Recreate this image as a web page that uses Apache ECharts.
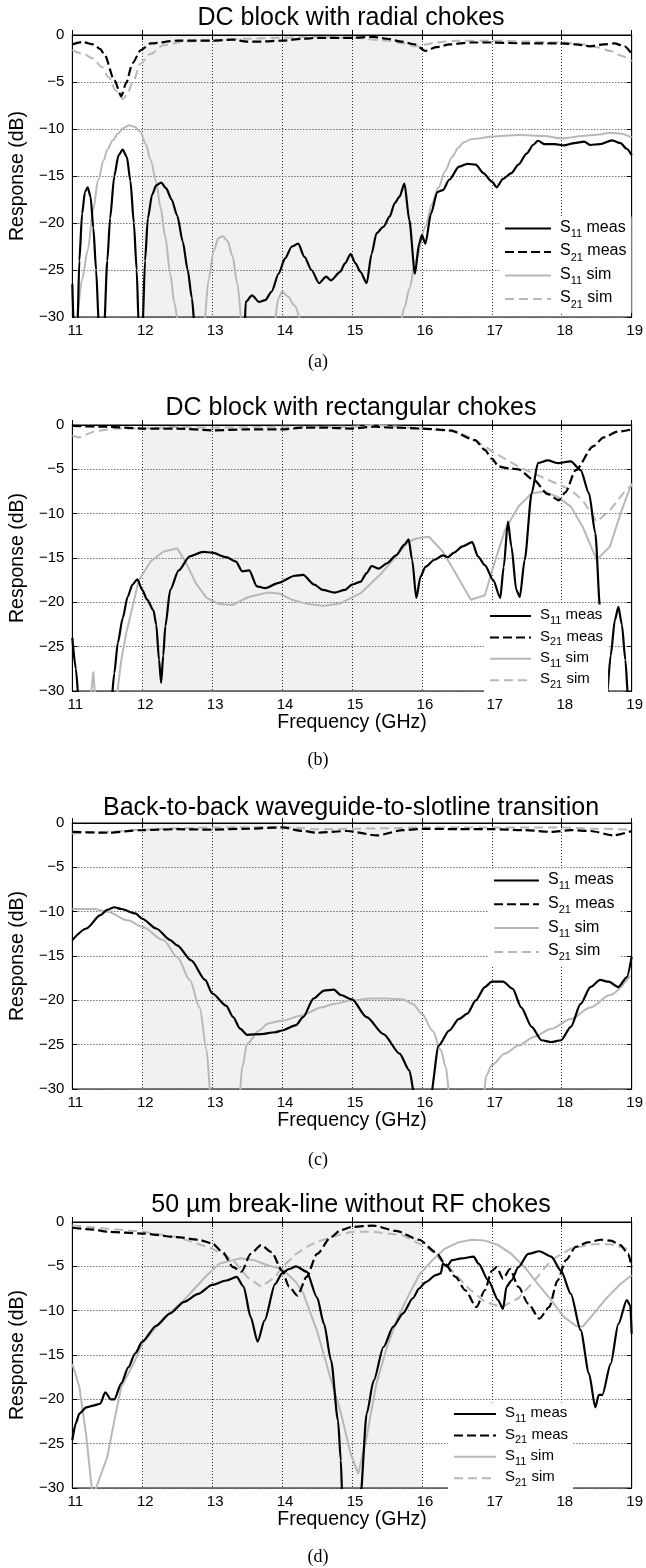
<!DOCTYPE html>
<html><head><meta charset="utf-8">
<script src="https://cdn.jsdelivr.net/npm/echarts@6/dist/echarts.min.js"></script>
<style>html,body{margin:0;padding:0;background:#fff}#c{width:646px;height:1568px}</style>
</head><body><div id="c"></div>
<script>
// ---------- axes / labels ----------
const X_MIN = 11, X_MAX = 19, X_STEP = 1;
const Y_MIN = -30, Y_MAX = 0, Y_STEP = 5;
const TITLES = ['DC block with radial chokes', 'DC block with rectangular chokes',
  'Back-to-back waveguide-to-slotline transition', '50 \u00b5m break-line without RF chokes'];
const PANEL_LABELS = ['(a)', '(b)', '(c)', '(d)'];
const LEGEND_NAMES = ['S11 meas', 'S21 meas', 'S11 sim', 'S21 sim'];
const SHADE_BAND = [12, 16];

// ---------- (a) DC block with radial chokes ----------
const A_S11_MEAS = [[11.0,-26.5],[11.02,-31],[11.07,-32],[11.1,-24],[11.14,-19],[11.18,-16.7],[11.22,-16.2],[11.26,-17.2],[11.3,-20.5],[11.34,-25],[11.38,-31],[11.45,-32],[11.5,-24],[11.54,-19.5],[11.6,-15],[11.66,-12.8],[11.72,-12.2],[11.78,-13],[11.83,-15.5],[11.88,-20],[11.92,-25],[11.95,-31],[12.0,-32],[12.04,-24],[12.08,-19.5],[12.14,-17],[12.2,-16],[12.27,-15.7],[12.34,-16.3],[12.42,-17.5],[12.5,-19.2],[12.58,-22],[12.65,-25],[12.71,-28],[12.76,-32],[13.46,-32],[13.48,-28.4],[13.57,-27.7],[13.67,-28.4],[13.76,-28.2],[13.85,-27.3],[13.95,-25.4],[14.04,-23.8],[14.14,-22.5],[14.23,-22.2],[14.32,-23.6],[14.42,-25.0],[14.53,-26.4],[14.63,-25.7],[14.7,-26.1],[14.83,-25.2],[14.9,-24.3],[14.98,-23.3],[15.05,-24.3],[15.12,-25.2],[15.21,-26.4],[15.28,-23.3],[15.35,-21.1],[15.45,-20.4],[15.54,-19.3],[15.61,-17.9],[15.68,-17.2],[15.75,-15.8],[15.82,-19.7],[15.9,-25.4],[15.96,-22.2],[16.0,-21.3],[16.05,-22.2],[16.13,-19.0],[16.22,-16.7],[16.3,-16.5],[16.39,-15.4],[16.53,-14.0],[16.65,-13.7],[16.77,-13.8],[16.88,-14.7],[17.0,-15.6],[17.07,-16.2],[17.16,-15.3],[17.28,-14.7],[17.38,-13.8],[17.5,-12.6],[17.59,-11.7],[17.66,-11.25],[17.75,-11.6],[17.9,-11.6],[18.03,-11.75],[18.18,-11.5],[18.32,-11.35],[18.41,-11.7],[18.55,-11.6],[18.72,-11.2],[18.84,-11.5],[18.93,-12.1],[19.0,-12.8]];
const A_S21_MEAS = [[11.0,-1.0],[11.15,-0.75],[11.3,-1.0],[11.4,-1.5],[11.46,-2.1],[11.6,-4.8],[11.7,-6.5],[11.77,-5.1],[11.86,-3.0],[11.98,-1.6],[12.12,-0.9],[12.5,-0.6],[13.0,-0.6],[13.3,-0.5],[13.5,-0.7],[13.7,-0.7],[14.0,-0.6],[14.3,-0.4],[14.5,-0.3],[15.0,-0.3],[15.3,-0.2],[15.5,-0.4],[15.7,-0.7],[15.9,-1.0],[16.05,-1.7],[16.2,-1.3],[16.4,-1.0],[16.7,-0.8],[17.0,-0.8],[17.5,-0.9],[18.0,-0.9],[18.2,-1.0],[18.4,-1.2],[18.6,-1.0],[18.75,-0.9],[18.9,-1.2],[19.0,-2.0]];
const A_S11_SIM = [[11.0,-33],[11.06,-30],[11.14,-26],[11.22,-22.9],[11.3,-18.5],[11.37,-15.4],[11.45,-13.3],[11.5,-12.2],[11.58,-11.2],[11.65,-10.5],[11.73,-9.9],[11.81,-9.6],[11.9,-9.8],[11.97,-10.3],[12.05,-11.6],[12.12,-13.3],[12.2,-15.6],[12.26,-18.3],[12.33,-21.5],[12.4,-25.4],[12.46,-28.5],[12.52,-31],[12.88,-31],[12.95,-26],[13.02,-23],[13.09,-21.6],[13.15,-21.4],[13.22,-21.9],[13.29,-23.5],[13.36,-26.5],[13.43,-31],[13.88,-31],[13.95,-28],[14.0,-27.3],[14.08,-27.8],[14.18,-28.8],[14.3,-31],[15.68,-31],[15.75,-29],[15.82,-27],[15.91,-24],[16.05,-20.4],[16.14,-18],[16.24,-16.2],[16.33,-14.5],[16.43,-13],[16.52,-12],[16.6,-11.4],[16.7,-11.1],[16.8,-11],[17.0,-10.8],[17.38,-10.65],[17.75,-10.75],[18.0,-11],[18.3,-10.75],[18.5,-10.6],[18.7,-10.4],[18.85,-10.5],[19.0,-10.9]];
const A_S21_SIM = [[11.0,-1.6],[11.15,-2.0],[11.3,-2.5],[11.42,-3.4],[11.52,-4.5],[11.62,-5.9],[11.72,-6.8],[11.78,-6.4],[11.86,-5.1],[11.98,-3.0],[12.12,-2.0],[12.3,-1.1],[12.6,-0.7],[13.0,-0.6],[13.5,-0.4],[14.0,-0.3],[14.5,-0.2],[15.0,-0.3],[15.5,-0.6],[15.75,-0.9],[15.9,-1.2],[16.05,-1.0],[16.2,-0.8],[16.5,-0.6],[17.0,-0.6],[17.5,-0.7],[18.0,-0.8],[18.3,-1.0],[18.5,-1.3],[18.7,-1.7],[18.85,-2.2],[19.0,-2.8]];

// ---------- (b) DC block with rectangular chokes ----------
const B_S11_MEAS = [[11.0,-24],[11.05,-27.5],[11.1,-32],[11.55,-32],[11.6,-28],[11.65,-24.6],[11.72,-21.8],[11.79,-19.4],[11.86,-18],[11.93,-17.4],[12.0,-18.6],[12.07,-19.7],[12.16,-20.9],[12.2,-22.5],[12.24,-26.5],[12.27,-29.1],[12.3,-26],[12.33,-22.7],[12.4,-18.6],[12.52,-16.4],[12.68,-14.8],[12.87,-14.3],[13.0,-14.4],[13.2,-14.9],[13.34,-15.4],[13.43,-16.5],[13.53,-16.4],[13.64,-18.2],[13.76,-18.4],[13.95,-17.8],[14.18,-17.0],[14.3,-16.9],[14.46,-18.0],[14.58,-18.6],[14.75,-18.9],[14.9,-18.6],[15.0,-18.0],[15.12,-17.7],[15.21,-16.7],[15.28,-15.9],[15.38,-16.2],[15.5,-15.6],[15.63,-14.7],[15.75,-13.5],[15.81,-12.9],[15.86,-15.2],[15.92,-19.5],[15.98,-17.1],[16.05,-16.0],[16.18,-15.2],[16.3,-14.7],[16.37,-14.9],[16.46,-14.4],[16.58,-13.7],[16.72,-13.2],[16.8,-14.8],[16.9,-15.8],[17.02,-17.5],[17.12,-19.5],[17.17,-16],[17.23,-10.9],[17.28,-13.7],[17.35,-18.6],[17.4,-19.4],[17.47,-15.2],[17.57,-7.7],[17.66,-4.3],[17.8,-4.0],[17.94,-4.3],[18.13,-4.1],[18.27,-5.1],[18.39,-7.7],[18.48,-12.2],[18.55,-20.9],[18.62,-31],[18.64,-31],[18.7,-26],[18.76,-22],[18.81,-20.5],[18.86,-22.5],[18.91,-26.5],[18.95,-31],[19.0,-33]];
const B_S21_MEAS = [[11.0,-0.1],[11.5,-0.2],[12.0,-0.4],[12.5,-0.4],[13.0,-0.6],[13.5,-0.5],[14.0,-0.5],[14.3,-0.3],[14.6,-0.3],[15.0,-0.4],[15.3,-0.2],[15.6,-0.3],[16.0,-0.4],[16.4,-0.6],[16.76,-1.7],[16.9,-2.8],[17.0,-3.8],[17.1,-4.7],[17.25,-4.9],[17.38,-5.0],[17.6,-6.2],[17.8,-7.8],[17.96,-8.5],[18.05,-7.6],[18.2,-5.1],[18.45,-2.4],[18.6,-1.4],[18.8,-0.75],[19.0,-0.5]];
const B_S11_SIM = [[11.0,-33],[11.26,-31],[11.3,-27.8],[11.33,-31],[11.63,-31],[11.7,-26.5],[11.77,-23.5],[11.84,-21.2],[11.95,-17.5],[12.12,-15.4],[12.3,-14.3],[12.5,-13.9],[12.63,-15.6],[12.77,-17.9],[12.92,-19.5],[13.1,-20.2],[13.29,-20.3],[13.52,-19.4],[13.8,-18.9],[13.95,-19.0],[14.14,-19.7],[14.37,-20.2],[14.6,-20.4],[14.84,-20.1],[15.12,-19.0],[15.4,-16.9],[15.63,-14.8],[15.8,-13.2],[15.92,-12.8],[16.1,-12.6],[16.3,-14.3],[16.48,-16.7],[16.7,-19.7],[16.9,-19.2],[17.02,-16],[17.19,-11.8],[17.38,-9.2],[17.57,-7.7],[17.75,-7.5],[17.94,-8.1],[18.13,-9.2],[18.3,-11.5],[18.5,-15.2],[18.69,-13.7],[18.84,-10],[19.0,-6.6]];
const B_S21_SIM = [[11.0,-1.2],[11.1,-1.4],[11.3,-0.75],[11.6,-0.4],[12.0,-0.4],[12.5,-0.2],[13.0,-0.3],[14.0,-0.2],[15.0,-0.2],[15.3,0],[15.7,-0.2],[16.0,-0.4],[16.5,-0.75],[16.76,-1.7],[17.05,-3.2],[17.38,-4.7],[17.75,-6.0],[18.13,-7.3],[18.3,-8.5],[18.5,-10.9],[18.69,-9.6],[18.9,-7.5],[19.0,-6.8]];

// ---------- (c) Back-to-back waveguide-to-slotline transition ----------
const C_S11_MEAS = [[11.0,-13.2],[11.2,-11.9],[11.4,-10.4],[11.5,-9.8],[11.6,-9.5],[11.7,-9.7],[11.9,-10.2],[12.0,-10.8],[12.2,-11.9],[12.4,-13.2],[12.5,-13.8],[12.7,-15.5],[12.9,-17.7],[13.0,-19.2],[13.2,-20.6],[13.3,-21.9],[13.4,-23.2],[13.5,-23.9],[13.7,-23.8],[13.9,-23.6],[14.0,-23.4],[14.2,-22.8],[14.3,-21.9],[14.45,-19.8],[14.6,-18.9],[14.74,-18.8],[14.84,-19.4],[15.0,-19.9],[15.21,-21.9],[15.45,-23.8],[15.68,-26.0],[15.82,-27.9],[15.9,-31],[16.12,-31],[16.24,-25.1],[16.39,-23.4],[16.53,-22.1],[16.65,-21.5],[16.77,-20.0],[16.9,-18.5],[17.0,-17.9],[17.16,-17.9],[17.3,-18.7],[17.42,-20.8],[17.57,-23.0],[17.71,-24.5],[17.85,-24.7],[17.99,-24.5],[18.13,-23.0],[18.27,-20.4],[18.41,-18.5],[18.55,-17.7],[18.67,-17.9],[18.81,-18.5],[18.93,-17.4],[19.0,-15.1]];
const C_S21_MEAS = [[11.0,-1.0],[11.5,-1.1],[12.0,-0.8],[12.5,-0.7],[13.0,-0.75],[13.5,-0.65],[14.0,-0.5],[14.3,-0.9],[14.5,-1.1],[14.93,-0.9],[15.36,-1.4],[15.73,-0.8],[16.05,-0.65],[16.53,-0.7],[17.0,-0.7],[17.47,-0.8],[17.85,-1.0],[18.13,-0.8],[18.41,-0.9],[18.74,-1.4],[19.0,-0.9]];
const C_S11_SIM = [[11.0,-9.7],[11.3,-9.7],[11.5,-10.0],[11.8,-11.0],[12.0,-11.7],[12.3,-13.2],[12.5,-15.1],[12.68,-17.7],[12.82,-20.8],[12.92,-25.6],[12.98,-31],[13.39,-31],[13.43,-27.5],[13.5,-24.9],[13.67,-23.4],[13.8,-22.6],[14.0,-22.3],[14.28,-21.7],[14.56,-20.8],[14.74,-20.4],[15.0,-20.0],[15.26,-19.8],[15.5,-19.8],[15.73,-19.9],[15.87,-20.4],[16.0,-21.5],[16.15,-23.4],[16.27,-25.6],[16.34,-27.5],[16.4,-31],[16.88,-31],[16.92,-28.5],[17.0,-27.3],[17.19,-26.0],[17.38,-25.1],[17.61,-24.1],[17.85,-23.2],[18.13,-22.1],[18.41,-20.8],[18.69,-19.4],[18.98,-17.2]];
const C_S21_SIM = [[11.0,-1.2],[11.5,-1.0],[12.0,-0.75],[12.5,-0.6],[13.0,-0.5],[14.0,-0.45],[14.5,-0.7],[15.0,-0.65],[15.5,-0.6],[16.0,-0.5],[17.0,-0.5],[18.0,-0.5],[18.5,-0.65],[19.0,-0.75]];

// ---------- (d) 50 um break-line without RF chokes ----------
const D_S11_MEAS = [[11.0,-24.6],[11.05,-22.7],[11.1,-21.6],[11.2,-20.9],[11.3,-20.7],[11.4,-20.5],[11.47,-19.2],[11.55,-20.0],[11.6,-20.0],[11.7,-18.2],[11.8,-16.4],[11.9,-14.8],[12.0,-13.5],[12.2,-11.7],[12.4,-10.3],[12.6,-9.0],[12.8,-8.1],[13.0,-7.1],[13.2,-6.6],[13.35,-6.2],[13.45,-7.3],[13.55,-10.7],[13.65,-13.5],[13.75,-11.1],[13.9,-7.0],[14.0,-5.8],[14.1,-5.3],[14.2,-5.0],[14.35,-5.6],[14.5,-8.5],[14.6,-11.5],[14.7,-15.6],[14.8,-22.4],[14.84,-26.9],[14.86,-31],[15.12,-31],[15.21,-21.6],[15.31,-17.9],[15.45,-14.1],[15.59,-11.8],[15.73,-10.3],[15.87,-8.6],[15.96,-7.5],[16.05,-6.8],[16.2,-6.0],[16.27,-5.8],[16.3,-4.7],[16.36,-5.0],[16.43,-4.3],[16.57,-4.1],[16.74,-3.9],[16.81,-4.7],[16.95,-6.6],[17.09,-8.8],[17.16,-9.8],[17.21,-7.3],[17.28,-6.6],[17.38,-5.1],[17.52,-3.6],[17.68,-3.3],[17.85,-3.9],[17.99,-5.5],[18.13,-8.1],[18.27,-12.2],[18.39,-17.1],[18.48,-20.9],[18.53,-19.5],[18.58,-19.5],[18.7,-16.0],[18.81,-11.5],[18.93,-8.8],[18.98,-9.4],[19.0,-12.6]];
const D_S21_MEAS = [[11.0,-0.65],[11.3,-0.85],[11.5,-1.1],[12.0,-1.3],[12.5,-1.7],[12.8,-2.0],[13.0,-2.4],[13.15,-3.4],[13.3,-5.1],[13.42,-5.6],[13.55,-3.6],[13.7,-2.6],[13.85,-3.4],[14.0,-5.5],[14.1,-7.3],[14.22,-8.3],[14.35,-6.2],[14.5,-3.6],[14.7,-1.7],[14.84,-0.9],[15.0,-0.55],[15.3,-0.4],[15.63,-1.0],[15.96,-2.0],[16.2,-3.4],[16.33,-4.7],[16.48,-6.2],[16.62,-7.7],[16.78,-9.6],[16.9,-7.7],[17.0,-5.5],[17.07,-5.1],[17.16,-6.4],[17.26,-5.3],[17.38,-7.3],[17.52,-9.2],[17.68,-10.9],[17.82,-9.6],[17.94,-6.6],[18.06,-4.3],[18.2,-2.8],[18.37,-2.3],[18.56,-2.0],[18.7,-2.1],[18.84,-2.6],[18.95,-3.6],[19.0,-5.1]];
const D_S11_SIM = [[11.0,-16.0],[11.1,-18.6],[11.2,-24.2],[11.28,-30.2],[11.33,-30.2],[11.5,-26.5],[11.6,-22.4],[11.7,-18.6],[11.9,-15.6],[12.0,-13.7],[12.3,-10.9],[12.6,-8.8],[12.9,-6.2],[13.1,-4.7],[13.4,-4.1],[13.6,-4.3],[13.8,-4.9],[14.0,-5.3],[14.2,-6.8],[14.3,-8.0],[14.5,-12.3],[14.7,-17.8],[14.84,-21.5],[14.98,-26.1],[15.09,-28.4],[15.21,-24.2],[15.35,-18.2],[15.5,-14.1],[15.66,-10.7],[15.82,-8.1],[15.96,-6.0],[16.15,-4.3],[16.33,-3.0],[16.52,-2.3],[16.71,-2.0],[16.9,-2.1],[17.09,-2.6],[17.28,-3.6],[17.47,-5.1],[17.66,-7.0],[17.85,-8.8],[18.03,-10.7],[18.2,-11.7],[18.3,-11.8],[18.46,-10.3],[18.65,-8.5],[18.84,-7.0],[19.0,-6.0]];
const D_S21_SIM = [[11.0,-0.4],[11.5,-0.75],[12.0,-1.1],[12.5,-1.7],[13.0,-3.0],[13.3,-4.3],[13.5,-6.2],[13.7,-7.3],[13.9,-6.2],[14.0,-5.1],[14.2,-3.6],[14.4,-2.6],[14.55,-2.1],[14.84,-1.4],[15.0,-1.1],[15.3,-1.1],[15.73,-1.5],[16.1,-3.0],[16.43,-5.5],[16.67,-7.5],[16.9,-9.0],[17.14,-9.6],[17.38,-8.6],[17.61,-6.6],[17.85,-4.3],[18.13,-3.0],[18.41,-2.5],[18.7,-2.5],[19.0,-3.2]];

const PANEL_DATA = [
  [A_S11_MEAS, A_S21_MEAS, A_S11_SIM, A_S21_SIM],
  [B_S11_MEAS, B_S21_MEAS, B_S11_SIM, B_S21_SIM],
  [C_S11_MEAS, C_S21_MEAS, C_S11_SIM, C_S21_SIM],
  [D_S11_MEAS, D_S21_MEAS, D_S11_SIM, D_S21_SIM]
];

// ---------- layout ----------
const FONT = '"Liberation Sans", Arial, Helvetica, sans-serif';
const BLACK = '#000', GRAY = '#b8b8b8';
const LAYOUT = [
  {top: 35,   height: 282, titleY: 18,   labelY: 362,  xName: '',                lg: {left: 499, top: 216.5, fs: 16, iw: 46, gap: 3.5}, simSmooth: 0.3},
  {top: 425,  height: 266, titleY: 408,  labelY: 760,  xName: 'Frequency (GHz)', lg: {left: 484, top: 604.5, fs: 15, iw: 41, gap: 2.4}, simSmooth: 0},
  {top: 823,  height: 266, titleY: 808,  labelY: 1160, xName: 'Frequency (GHz)', lg: {left: 488, top: 868.5, fs: 16, iw: 45, gap: 3.8}, simSmooth: 0.3},
  {top: 1222, height: 266, titleY: 1205, labelY: 1557, xName: 'Frequency (GHz)', lg: {left: 448, top: 1402.5,fs: 15, iw: 42, gap: 2.4}, simSmooth: 0}
];
const STYLES = [
  {color: BLACK, type: 'solid', width: 2.2},
  {color: BLACK, type: [9, 4], width: 2.2},
  {color: GRAY, type: 'solid', width: 2},
  {color: GRAY, type: [9, 5], width: 2}
];
const yFmt = v => v < 0 ? '\u2212' + Math.abs(v) : String(v);

const grid = [], xAxis = [], yAxis = [], series = [], legend = [], graphic = [];
LAYOUT.forEach((L, i) => {
  grid.push({left: 67, right: 11, top: L.top, height: L.height, show: true, borderColor: BLACK, borderWidth: 1, backgroundColor: 'transparent'});
  const tick = {show: true, inside: true, length: 5, lineStyle: {color: BLACK, width: 1}};
  const line = {show: true, lineStyle: {color: BLACK, width: 1}};
  xAxis.push({type: 'value', gridIndex: i, min: X_MIN, max: X_MAX, interval: X_STEP,
    axisLine: line, axisTick: tick,
    axisLabel: {color: BLACK, fontSize: 15, fontFamily: FONT, margin: 6, padding: [0, 0, 0, 6]},
    splitLine: {show: true, lineStyle: {color: '#333', type: [1, 2], width: 1}},
    name: L.xName, nameLocation: 'middle', nameGap: 20,
    nameTextStyle: {color: BLACK, fontSize: 19.5, fontFamily: FONT}});
  xAxis.push({type: 'value', gridIndex: i, position: 'top', min: X_MIN, max: X_MAX, interval: X_STEP,
    axisLine: line, axisTick: tick, axisLabel: {show: false}, splitLine: {show: false}});
  yAxis.push({type: 'value', gridIndex: i, min: Y_MIN, max: Y_MAX, interval: Y_STEP,
    axisLine: line, axisTick: tick,
    axisLabel: {color: BLACK, fontSize: 15, fontFamily: FONT, margin: 8, formatter: yFmt},
    splitLine: {show: true, lineStyle: {color: '#333', type: [1, 2], width: 1}},
    name: 'Response (dB)', nameLocation: 'middle', nameGap: 39,
    nameTextStyle: {color: BLACK, fontSize: 19.5, fontFamily: FONT}});
  yAxis.push({type: 'value', gridIndex: i, position: 'right', min: Y_MIN, max: Y_MAX, interval: Y_STEP,
    axisLine: line, axisTick: tick, axisLabel: {show: false}, splitLine: {show: false}});

  const xi = 2 * i, yi = 2 * i;
  // shaded band 12-16 GHz
  series.push({type: 'line', name: 'band' + i, xAxisIndex: xi, yAxisIndex: yi, data: [], silent: true, z: 1,
    markArea: {silent: true, itemStyle: {color: 'rgba(0,0,0,0.055)'}, data: [[{xAxis: SHADE_BAND[0]}, {xAxis: SHADE_BAND[1]}]]}});
  const order = [2, 3, 0, 1]; // draw sims below measurements
  order.forEach(k => {
    const isSim = k >= 2;
    series.push({type: 'line', name: LEGEND_NAMES[k] + '|' + i, xAxisIndex: xi, yAxisIndex: yi,
      data: PANEL_DATA[i][k], showSymbol: false, symbol: 'none', clip: true, z: isSim ? 2 : 3,
      smooth: isSim ? L.simSmooth : 0.25, smoothMonotone: 'x',
      lineStyle: {color: STYLES[k].color, type: STYLES[k].type, width: STYLES[k].width},
      itemStyle: {color: STYLES[k].color}});
  });
  const F = L.lg.fs;
  legend.push({orient: 'vertical', left: L.lg.left, top: L.lg.top, itemWidth: L.lg.iw, itemHeight: 12,
    itemGap: L.lg.gap, padding: [3, 5, 3, 5], backgroundColor: '#fff', selectedMode: false,
    itemStyle: {opacity: 0, borderWidth: 0},
    data: LEGEND_NAMES.map(n => n + '|' + i),
    formatter: name => {
      const n = name.split('|')[0];
      return '{s|S}{sub|' + n.substr(1, 2) + '}{t|' + n.substr(3) + '}';
    },
    textStyle: {color: BLACK, fontFamily: FONT, fontSize: F,
      rich: {
        s: {fontSize: F, lineHeight: Math.round(F * 1.15), verticalAlign: 'top', padding: [0, 0, 0, 4], fontFamily: FONT, color: BLACK},
        sub: {fontSize: Math.round(F * 0.7), lineHeight: Math.round(F * 0.7), verticalAlign: 'top', padding: [Math.round(F * 0.55), 0, 0, 0], fontFamily: FONT, color: BLACK},
        t: {fontSize: F, lineHeight: Math.round(F * 1.15), verticalAlign: 'top', fontFamily: FONT, color: BLACK}
      }}});
  graphic.push({type: 'text', x: 351, y: L.titleY, silent: true,
    style: {text: TITLES[i], fontSize: 25, fontFamily: FONT, fill: BLACK, align: 'center', verticalAlign: 'middle'}});
  graphic.push({type: 'text', x: 318, y: L.labelY, silent: true,
    style: {text: PANEL_LABELS[i], fontSize: 18, fontFamily: '"Liberation Serif", "Times New Roman", serif', fill: BLACK, align: 'center', verticalAlign: 'middle'}});
});

const chart = echarts.init(document.getElementById('c'), null, {renderer: 'canvas'});
chart.setOption({animation: false, backgroundColor: '#fff', grid, xAxis, yAxis, series, legend, graphic});
</script></body></html>
